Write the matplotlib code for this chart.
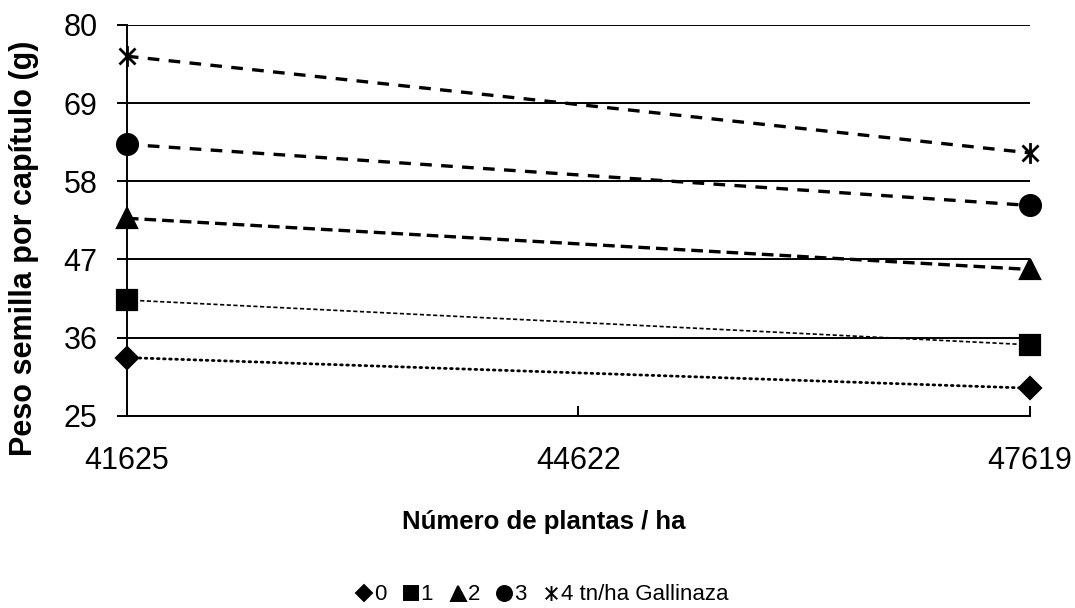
import matplotlib.pyplot as plt
from matplotlib.lines import Line2D
from matplotlib.path import Path

plt.rcParams['font.family'] = ['Liberation Sans', 'DejaVu Sans']

plantas = [41625, 47619]
peso_0 = [33.2, 28.9]
peso_1 = [41.3, 35.0]
peso_2 = [52.8, 45.6]
peso_3 = [63.2, 54.6]
peso_4 = [75.6, 62.0]
etiquetas = ['0', '1', '2', '3', '4 tn/ha Gallinaza']
yticks = [25, 36, 47, 58, 69, 80]
xticks = [41625, 44622, 47619]

# asterisco tipo Excel (x + barra vertical)
asterisco = Path([(-1, -1), (1, 1), (-1, 1), (1, -1), (0, -1.3), (0, 1.3)],
                 [Path.MOVETO, Path.LINETO, Path.MOVETO, Path.LINETO, Path.MOVETO, Path.LINETO])

series = [
    (peso_0, 'D', (0, (0.6, 1.6)), 2.0, 11),
    (peso_1, 's', (0, (2.5, 1.5)), 1.2, 14),
    (peso_2, '^', (0, (3.5, 1.8)), 2.4, 15),
    (peso_3, 'o', (0, (3.5, 2.8)), 2.4, 15),
    (peso_4, asterisco, (0, (3.5, 2.8)), 2.4, 15),
]

fig = plt.figure(figsize=(10.75, 6.08), dpi=100)
ax = fig.add_axes([0.118, 0.316, 0.840, 0.643])

for y in yticks:
    ax.axhline(y, color='black', lw=1.4, zorder=1)

handles = []
for vals, mk, ls, lw, ms in series:
    ax.plot(plantas, vals, color='black', ls=ls, lw=lw, dash_capstyle='round' if mk == 'D' else 'butt', zorder=2)
    filled = mk is not asterisco
    ax.plot(plantas, vals, ls='none', marker=mk, ms=ms, color='black',
            mew=1.6 if filled else 2.0, clip_on=False, zorder=3)
    handles.append(Line2D([], [], ls='none', marker=mk, color='black',
                          ms=ms * 0.72, mew=1.4))

ax.set_xlim(41625, 47619)
ax.set_ylim(25, 80)
ax.set_xticks(xticks)
ax.set_yticks(yticks)
ax.set_xticklabels([str(x) for x in xticks])
ax.tick_params(axis='both', labelsize=22, width=1.4, color='black')
ax.tick_params(axis='y', direction='out', length=7, pad=14)
ax.tick_params(axis='x', direction='in', length=7, pad=22)
for s in ['top', 'right']:
    ax.spines[s].set_visible(False)
for s in ['left', 'bottom']:
    ax.spines[s].set_linewidth(1.4)

fig.text(24 / 1075, 1 - 248 / 608, 'Peso semilla por capítulo (g)', rotation=90,
         fontsize=22, fontweight='bold', ha='center', va='center')
fig.text(544 / 1075, 1 - 522 / 608, 'Número de plantas / ha',
         fontsize=18.5, fontweight='bold', ha='center', va='center')

fig.legend(handles, etiquetas, loc='center', bbox_to_anchor=(543 / 1075, 1 - 595 / 608), ncol=5,
           frameon=False, fontsize=16, handlelength=0.6, handletextpad=0.15, columnspacing=0.8,
           borderpad=0, borderaxespad=0)

fig.savefig('out.png', dpi=100)
